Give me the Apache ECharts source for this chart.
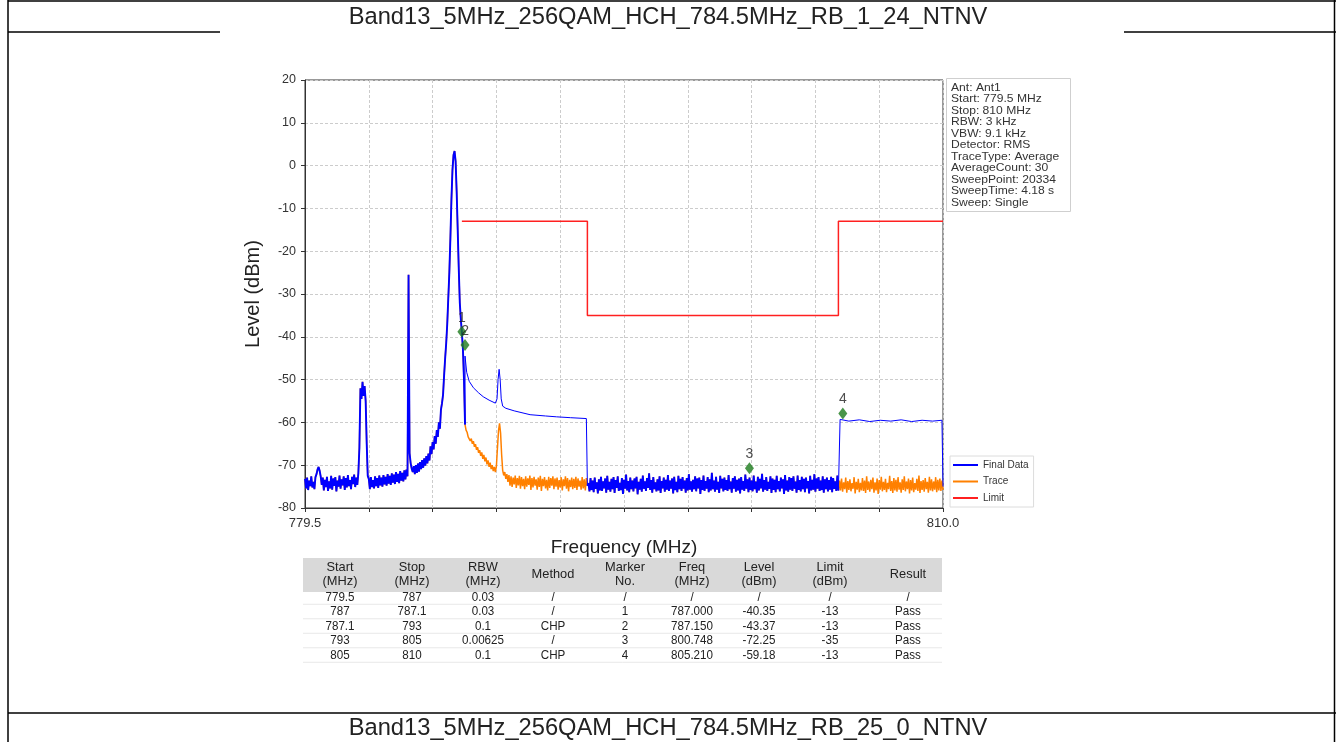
<!DOCTYPE html>
<html>
<head>
<meta charset="utf-8">
<title>Band13 spectrum</title>
<script src="https://cdn.jsdelivr.net/npm/echarts@6/dist/echarts.min.js"></script>
<style>
    html, body { margin: 0; padding: 0; background: #fff; }
    #chart { width: 1336px; height: 742px; }
</style>
</head>
<body>
<div id="chart"></div>
<script>
// sweep samples, one every 0.05 MHz
var TRACE_STEP = 0.05;

// 779.5 - 787.15 MHz
var traceLowStart = 779.5;
var traceLow = [
    -73.2, -75.4, -72.9, -75.8, -73.6, -74.9, -72.6, -75.2, -73.9, -75.6, -72.8,
    -72.1, -71.0, -70.4, -71.3, -72.6,
    -74.6, -72.9, -75.9, -73.4, -75.1, -72.7, -76.0, -73.8, -75.4, -72.5,
    -75.7, -73.1, -74.8, -72.8, -76.1, -73.6, -75.0, -72.4, -75.5, -73.3,
    -74.7, -72.6, -75.8, -73.0, -75.2, -72.3, -74.9, -73.5, -75.6, -72.7,
    -74.4, -72.2, -75.1, -72.9, -74.6, -71.9,
    -66.0, -52.0, -54.5, -50.5, -53.8, -51.5, -55.0, -65.0, -72.5,
    -73.2, -75.6, -72.8, -75.1, -73.5, -75.4, -72.6, -74.9, -73.0, -75.3,
    -72.4, -74.7, -72.9, -75.0, -72.3, -74.5, -72.7, -74.8, -72.1, -74.3,
    -72.5, -74.6, -71.9, -74.1, -72.2, -74.4, -71.6, -73.9, -72.0, -74.2,
    -71.4, -73.6, -71.8, -73.8, -71.2, -73.3, -71.0, -72.6,
    -25.5,
    -67.2, -69.5, -70.8, -71.6, -70.2, -72.1, -70.0, -71.8, -69.6, -71.5,
    -69.3, -70.9, -68.8, -70.6, -68.4, -70.1, -67.9, -69.6, -67.3, -68.9,
    -65.6, -67.4, -64.6, -66.3, -63.2, -65.0, -61.8, -63.4, -60.0, -61.5, -57.0, -55.5,
    -53.5, -49.0, -45.0, -41.5, -37.0, -31.0, -25.0, -17.0, -8.0, -1.0,
    2.5, 3.4, 1.0, -6.0, -15.0, -24.0, -32.0, -36.0, -39.0, -43.0, -50.0, -60.5
];

// 787.2 - 793.0 MHz
var traceMidStart = 787.2;
var traceMid = [
    -61.8, -62.3, -63.4, -63.0, -64.3, -63.8, -65.0, -64.4, -65.7, -65.1,
    -66.4, -65.8, -67.1, -66.5, -67.8, -67.0, -68.5, -67.6, -69.1, -68.2,
    -69.8, -68.9, -70.4, -69.4, -70.9, -70.0, -71.4, -70.4, -71.6, -70.2,
    -66.0, -62.0, -60.2, -62.5, -67.5, -71.2, -72.4, -71.6, -73.2, -72.1,
    -73.9, -72.3, -74.8, -72.6, -75.1, -72.9, -74.5, -72.4, -75.3, -73.0,
    -74.7, -72.5, -75.5, -72.8, -74.9, -73.2, -75.6, -72.6, -75.0, -73.1,
    -74.6, -72.4, -75.8, -73.0, -75.2, -72.7, -74.8, -73.3, -75.7, -72.9,
    -75.1, -72.5, -76.0, -73.2, -74.9, -72.8, -75.4, -73.4, -75.9, -72.7,
    -75.3, -73.0, -74.8, -72.6, -75.6, -73.1, -75.0, -72.9, -75.7, -73.5,
    -75.2, -72.8, -75.9, -73.3, -74.9, -72.6, -75.5, -73.0, -76.1, -73.4,
    -75.1, -72.9, -75.6, -73.2, -75.3, -72.7, -75.8, -73.1, -75.0, -73.6,
    -75.7, -72.8, -75.4, -73.3, -75.9, -73.0, -74.8
];

// 793.05 - 805.0 MHz
var traceNoiseStart = 793.05;
var traceNoise = [
    -74.2, -76.1, -73.0, -75.8, -73.6, -76.3, -72.9, -75.5, -74.0, -76.6,
    -73.3, -75.9, -72.7, -76.0, -73.8, -75.4, -73.1, -76.4, -72.5, -75.7,
    -73.9, -76.2, -73.2, -75.6, -72.8, -76.5, -73.5, -75.3, -72.6, -76.0,
    -74.1, -75.8, -73.0, -76.7, -73.4, -75.5, -72.2, -75.9, -73.7, -76.3,
    -72.9, -75.6, -73.6, -76.1, -73.1, -75.4, -72.7, -76.8, -73.9, -75.7,
    -73.2, -76.2, -72.4, -75.5, -73.8, -76.0, -73.0, -75.3, -71.9, -75.8,
    -73.5, -76.4, -72.8, -75.6, -74.0, -76.1, -73.3, -75.9, -72.6, -76.5,
    -73.7, -75.4, -72.9, -76.2, -73.4, -75.7, -72.3, -76.0, -73.6, -75.5,
    -73.1, -76.6, -72.7, -75.8, -73.9, -76.3, -72.5, -75.6, -73.2, -76.0,
    -72.8, -75.5, -73.6, -76.4, -73.0, -75.9, -72.1, -75.7, -73.8, -76.2,
    -73.4, -75.6, -72.6, -76.1, -73.1, -75.4, -72.9, -76.7, -73.5, -75.8,
    -72.4, -76.0, -73.7, -75.5, -72.8, -76.3, -73.3, -75.9, -71.8, -75.6,
    -73.6, -76.2, -72.7, -75.7, -73.9, -76.5, -72.5, -75.4, -73.2, -76.1,
    -72.9, -75.8, -73.5, -76.0, -72.3, -75.6, -73.8, -76.4, -73.0, -75.5,
    -72.6, -76.2, -73.4, -75.9, -73.1, -76.6, -72.8, -75.7, -73.7, -76.0,
    -72.2, -75.5, -73.3, -76.3, -72.9, -75.8, -73.6, -76.1, -72.4, -75.6,
    -73.8, -76.4, -72.7, -75.9, -73.2, -75.4, -72.0, -76.2, -73.5, -75.7,
    -72.8, -76.0, -73.9, -75.5, -72.6, -76.5, -73.1, -75.8, -73.4, -76.3,
    -72.5, -75.6, -73.7, -76.1, -72.9, -75.4, -73.3, -76.7, -72.3, -75.9,
    -73.6, -76.2, -72.8, -75.7, -73.0, -76.0, -72.6, -75.5, -73.8, -76.4,
    -72.4, -75.8, -73.5, -76.1, -72.7, -75.6, -73.2, -76.3, -72.9, -75.4,
    -73.7, -76.6, -72.5, -75.9, -73.4, -75.7, -72.1, -76.2, -73.1, -75.5,
    -72.8, -76.0, -73.6, -75.8, -72.6, -76.4, -73.3, -75.6, -72.9, -76.1,
    -73.5, -75.7, -72.7, -76.3, -73.0, -75.5, -73.8, -76.0, -72.4, -75.9
];

// 805.05 - 810.0 MHz
var traceHighStart = 805.05;
var traceHigh = [
    -73.6, -75.9, -73.1, -76.2, -74.0, -75.6, -72.9, -76.4, -73.7, -75.8,
    -73.3, -76.1, -74.2, -75.5, -72.8, -76.6, -73.9, -75.7, -73.2, -76.3,
    -74.1, -75.9, -73.0, -76.0, -73.6, -76.5, -72.6, -75.8, -73.8, -76.2,
    -73.4, -75.6, -72.9, -76.4, -74.0, -75.9, -73.1, -76.7, -73.5, -75.7,
    -72.7, -76.1, -73.9, -75.8, -73.2, -76.3, -74.1, -75.6, -72.5, -76.0,
    -73.7, -76.5, -73.0, -75.9, -73.4, -76.2, -72.8, -75.7, -74.0, -76.4,
    -73.3, -75.8, -72.6, -76.1, -73.8, -75.6, -73.1, -76.6, -73.5, -75.9,
    -72.9, -76.3, -74.2, -75.7, -73.2, -76.0, -72.4, -76.5, -73.7, -75.8,
    -73.5, -76.2, -73.0, -75.6, -73.9, -76.4, -72.7, -75.9, -73.3, -76.1,
    -73.8, -75.7, -72.8, -76.3, -73.4, -75.9, -73.1, -76.0, -73.6, -75.8
];

// channel power results drawn by the final data trace
var chpLow = [
    [787.15, -44.5], [787.23, -48.3], [787.35, -50.4], [787.55, -51.9], [787.8, -53.1],
    [788.02, -54.0], [788.3, -54.8], [788.6, -55.5], [788.68, -54.5], [788.73, -50.0],
    [788.78, -47.6], [788.83, -50.0], [788.88, -54.5], [788.95, -56.2], [789.1, -56.7],
    [789.5, -57.3], [790.26, -58.2], [791.0, -58.5], [791.53, -58.7], [792.2, -58.9],
    [792.95, -59.1]
];
var chpHigh = [
    [805.08, -59.3], [805.5, -59.7], [806.0, -59.4], [806.5, -59.8], [807.0, -59.5],
    [807.5, -59.7], [808.0, -59.4], [808.5, -59.8], [809.0, -59.5], [809.5, -59.7],
    [809.95, -59.5], [810.0, -75.0]
];

var limitLine = [[787, -13], [793, -13], [793, -35], [805, -35], [805, -13], [810, -13]];

var markerNames = ['1', '2', '3', '4'];
var markerPoints = [[787.0, -38.8], [787.15, -41.9], [800.748, -70.7], [805.21, -57.9]];

var yTicks = [-80, -70, -60, -50, -40, -30, -20, -10, 0, 10, 20];

var infoLines = ['Ant: Ant1', 'Start: 779.5 MHz', 'Stop: 810 MHz', 'RBW: 3 kHz', 'VBW: 9.1 kHz',
    'Detector: RMS', 'TraceType: Average', 'AverageCount: 30', 'SweepPoint: 20334',
    'SweepTime: 4.18 s', 'Sweep: Single'];

var tableHeaders = ['Start\n(MHz)', 'Stop\n(MHz)', 'RBW\n(MHz)', 'Method', 'Marker\nNo.',
    'Freq\n(MHz)', 'Level\n(dBm)', 'Limit\n(dBm)', 'Result'];
var tableRows = [
    ['779.5', '787', '0.03', '/', '/', '/', '/', '/', '/'],
    ['787', '787.1', '0.03', '/', '1', '787.000', '-40.35', '-13', 'Pass'],
    ['787.1', '793', '0.1', 'CHP', '2', '787.150', '-43.37', '-13', 'Pass'],
    ['793', '805', '0.00625', '/', '3', '800.748', '-72.25', '-35', 'Pass'],
    ['805', '810', '0.1', 'CHP', '4', '805.210', '-59.18', '-13', 'Pass']
];

var topTitle = 'Band13_5MHz_256QAM_HCH_784.5MHz_RB_1_24_NTNV';
var nextTitle = 'Band13_5MHz_256QAM_HCH_784.5MHz_RB_25_0_NTNV';

var FONT = 'Arial, "Liberation Sans", sans-serif';

var BLUE = '#0000ff';
var ORANGE = '#ff8000';

function toPoints(start, levels) {
    return levels.map(function (v, i) {
        return [+(start + i * TRACE_STEP).toFixed(2), v];
    });
}

var lowPts = toPoints(traceLowStart, traceLow);
var midPts = toPoints(traceMidStart, traceMid);
var noisePts = toPoints(traceNoiseStart, traceNoise);
var highPts = toPoints(traceHighStart, traceHigh);

var tracePts = lowPts.concat(midPts, noisePts, highPts);

// final data = measured trace where no CHP result, CHP line elsewhere
var midEnd = midPts[midPts.length - 1];
var finalParts = [
    {data: lowPts, width: 1.9},
    {data: [lowPts[lowPts.length - 1]].concat(chpLow, [midEnd]), width: 1},
    {data: [midEnd].concat(noisePts), width: 1.9},
    {data: [noisePts[noisePts.length - 1]].concat(chpHigh), width: 1}
];

var graphics = [];

function line(x1, y1, x2, y2, color, width) {
    graphics.push({
        type: 'line', silent: true,
        shape: {x1: x1, y1: y1, x2: x2, y2: y2},
        style: {stroke: color, lineWidth: width}
    });
}

function label(text, x, y, size, sx, opts) {
    opts = opts || {};
    graphics.push({
        type: 'text', silent: true, x: x, y: y, scaleX: sx,
        style: {
            text: text, x: 0, y: 0,
            fill: opts.color || '#222',
            fontSize: size,
            fontFamily: FONT,
            textAlign: opts.align || 'center',
            textVerticalAlign: 'middle',
            lineHeight: opts.lineHeight || size
        }
    });
}

// page frame
line(8, 1, 1336, 1, '#000', 1.5);
line(8, 0, 8, 742, '#000', 1.5);
line(1334.5, 0, 1334.5, 742, '#000', 1.5);
line(8, 32, 220, 32, '#000', 1.5);
line(1124, 32, 1336, 32, '#000', 1.5);
line(8, 713, 1336, 713, '#000', 1.5);
label(topTitle, 668, 17, 23.7, 1);
label(nextTitle, 668, 728, 23.7, 1);

// instrument settings box
graphics.push({
    type: 'rect', silent: true,
    shape: {x: 946.5, y: 78.5, width: 124, height: 133},
    style: {fill: '#fff', stroke: '#cfcfcf', lineWidth: 1}
});
infoLines.forEach(function (t, i) {
    label(t, 951, 87.5 + i * 11.5, 11, 1.1, {align: 'left', color: '#333'});
});

// result table
var colX = [340, 412, 483, 553, 625, 692, 759, 830, 908];
var rowY = [597, 611.5, 626, 640.5, 655];
graphics.push({
    type: 'rect', silent: true,
    shape: {x: 303, y: 558, width: 639, height: 34},
    style: {fill: '#d9d9d9'}
});
tableHeaders.forEach(function (h, c) {
    label(h, colX[c], 574.5, 13.5, 0.95, {lineHeight: 13.5});
});
tableRows.forEach(function (row, r) {
    line(303, rowY[r] + 7.25, 942, rowY[r] + 7.25, '#e8e8e8', 1);
    row.forEach(function (cell, c) {
        label(cell, colX[c], rowY[r], 13.5, 0.86);
    });
});

var myChart = echarts.init(document.getElementById('chart'));

var series = [
    {
        name: 'Trace',
        type: 'line',
        data: tracePts,
        symbol: 'none',
        color: ORANGE,
        lineStyle: {color: ORANGE, width: 1.5}
    }
];
finalParts.forEach(function (part) {
    series.push({
        name: 'Final Data',
        type: 'line',
        data: part.data,
        symbol: 'none',
        color: BLUE,
        lineStyle: {color: BLUE, width: part.width}
    });
});
series.push({
    name: 'Limit',
    type: 'line',
    data: limitLine,
    symbol: 'none',
    color: '#ff2020',
    lineStyle: {color: '#ff2020', width: 1.5}
});
series.push({
    name: 'Markers',
    type: 'scatter',
    symbol: 'diamond',
    symbolSize: [9, 12],
    z: 5,
    itemStyle: {color: '#1b7a1b'},
    label: {
        show: true, position: 'top', distance: 1,
        fontSize: 14, color: '#222',
        formatter: function (p) { return p.name; }
    },
    data: markerPoints.map(function (p, i) {
        return {name: markerNames[i], value: p};
    })
});

var option = {
    animation: false,
    backgroundColor: '#fff',
    textStyle: {fontFamily: FONT},
    grid: {
        left: 305, top: 80, width: 638, height: 428,
        show: true, borderColor: '#333', borderWidth: 1
    },
    legend: {
        data: ['Final Data', 'Trace', 'Limit'],
        orient: 'vertical',
        left: 950, top: 456,
        icon: 'rect',
        itemWidth: 25, itemHeight: 2, itemGap: 4.5,
        padding: [3, 5, 3, 3],
        borderColor: '#dcdcdc', borderWidth: 1,
        selectedMode: false,
        textStyle: {fontSize: 10, color: '#333', lineHeight: 12}
    },
    xAxis: {
        type: 'value',
        min: 779.5,
        max: 810,
        interval: 3.05,
        name: 'Frequency (MHz)',
        nameLocation: 'middle',
        nameGap: 30,
        nameTextStyle: {fontSize: 19, color: '#222'},
        axisLine: {show: true, onZero: false, lineStyle: {color: '#333'}},
        axisTick: {show: true, length: 4, lineStyle: {color: '#333'}},
        axisLabel: {
            fontSize: 13, color: '#333', margin: 9,
            showMinLabel: true, showMaxLabel: true,
            formatter: function (v) {
                if (Math.abs(v - 779.5) < 1e-6) return '779.5';
                if (Math.abs(v - 810) < 1e-6) return '810.0';
                return '';
            }
        },
        splitLine: {show: true, lineStyle: {color: '#cccccc', type: [3, 2]}}
    },
    yAxis: {
        type: 'value',
        min: yTicks[0],
        max: yTicks[yTicks.length - 1],
        interval: 10,
        name: 'Level (dBm)',
        nameLocation: 'middle',
        nameGap: 42,
        nameTextStyle: {fontSize: 20, color: '#222'},
        axisLine: {show: true, onZero: false, lineStyle: {color: '#333'}},
        axisTick: {show: true, length: 4, lineStyle: {color: '#333'}},
        axisLabel: {fontSize: 12.5, color: '#333', margin: 9},
        splitLine: {show: true, lineStyle: {color: '#cccccc', type: [3, 2]}}
    },
    series: series,
    graphic: graphics
};

myChart.setOption(option);
</script>
</body>
</html>
